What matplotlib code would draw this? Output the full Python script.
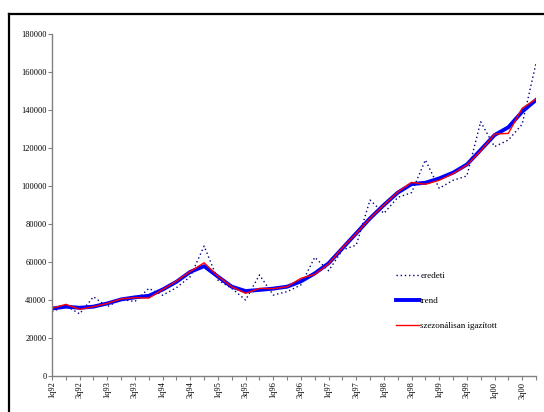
import numpy as np
import matplotlib.pyplot as plt
from matplotlib.lines import Line2D

# quarterly data 1q92 .. 4q00
quarters = [f"{q}q{y:02d}" for y in list(range(92, 100)) + [0] for q in range(1, 5)]

eredeti = [33800, 37000, 32700, 41700, 36500, 40300, 39200, 46100,
           42500, 46500, 52300, 68400, 50500, 46100, 40000, 53200,
           42600, 44400, 47900, 62500, 55400, 66300, 68900, 92600,
           85600, 94000, 96500, 113700, 98800, 103000, 105300, 133800,
           120700, 124200, 132500, 164600]

trend = [35500, 36500, 35900, 36500, 38200, 40300, 41400, 42200,
         45500, 49600, 54800, 57800, 52300, 47000, 44700, 45300,
         46000, 47000, 49800, 54000, 59300, 67200, 75100, 83000,
         90000, 96500, 101000, 101700, 104000, 107000, 111300, 119000,
         126800, 130900, 139100, 145300]

szezonalisan = [35600, 37700, 35100, 36500, 38200, 40600, 41200, 41000,
                45500, 50000, 55000, 59600, 52500, 47000, 43500, 46100,
                46000, 47000, 51400, 53500, 59000, 67500, 75000, 83000,
                90000, 96800, 101900, 100900, 103000, 106500, 111000, 118500,
                127300, 127700, 140900, 145800]

plt.rcParams['font.family'] = ['Liberation Serif', 'DejaVu Serif']

fig = plt.figure(figsize=(5.44, 4.12), dpi=100)
ax = fig.add_axes([52 / 544, 1 - 376 / 412, 484 / 544, 342 / 412])

x = np.arange(len(quarters))
ax.plot(x, eredeti, color='#000080', lw=1, linestyle=(0, (1, 2)), label='eredeti')
ax.plot(x, trend, color='#0000ff', lw=2.8, label='trend')
ax.plot(x, szezonalisan, color='#ff0000', lw=1, label='szezonálisan igazított')

ax.set_xlim(0, len(quarters) - 1)
ax.set_ylim(0, 180000)
ax.set_yticks(np.arange(0, 180001, 20000))
ax.set_xticks(x)
ax.set_xticklabels([q if i % 2 == 0 else '' for i, q in enumerate(quarters)],
                   rotation=90, fontsize=6)
ax.tick_params(axis='y', labelsize=6, length=3, color='#808080', pad=1)
ax.tick_params(axis='x', length=3, color='#808080', pad=1)

for s in ['top', 'right']:
    ax.spines[s].set_visible(False)
for s in ['left', 'bottom']:
    ax.spines[s].set_color('#808080')
    ax.spines[s].set_linewidth(1)

ax.legend(loc='upper left', bbox_to_anchor=(396 / 544, 1 - 272 / 412),
          bbox_transform=fig.transFigure, frameon=False, fontsize=6.5,
          handlelength=2.6, handletextpad=0.1, labelspacing=1.85,
          borderpad=0, borderaxespad=0)

# outer frame of the chart
fig.add_artist(Line2D([9 / 544, 9 / 544], [0, 1 - 14 / 412], color='black', lw=1.6))
fig.add_artist(Line2D([9 / 544, 1], [1 - 14 / 412, 1 - 14 / 412], color='black', lw=1.6))

fig.savefig('out.png', dpi=100)
